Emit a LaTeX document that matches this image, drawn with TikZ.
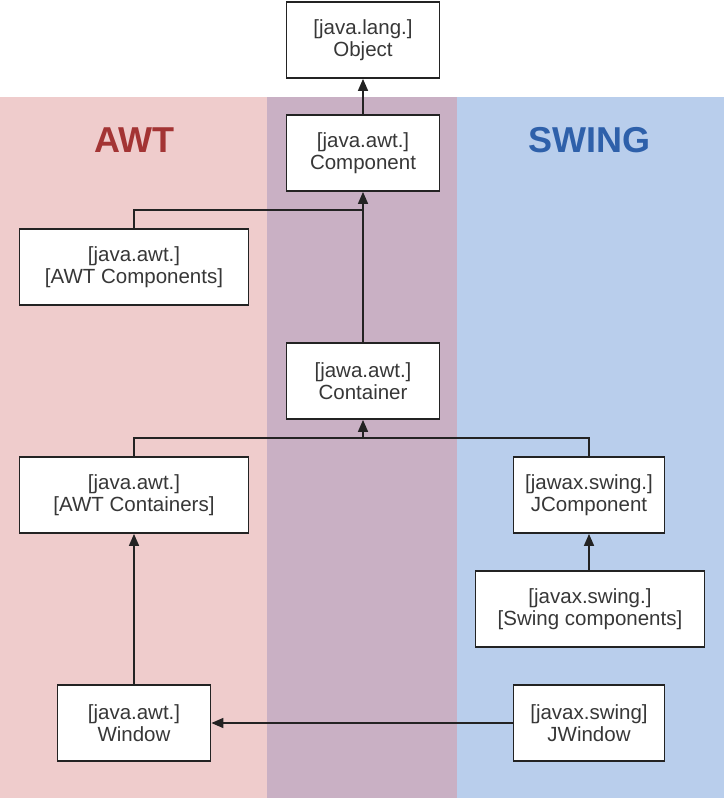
\documentclass[tikz,border=0pt]{standalone}
\usepackage{fontspec}
\setmainfont{Liberation Sans}
\usetikzlibrary{arrows.meta}
\definecolor{awtbg}{RGB}{239,204,204}
\definecolor{midbg}{RGB}{201,176,196}
\definecolor{swbg}{RGB}{185,206,236}
\definecolor{awtred}{RGB}{163,52,52}
\definecolor{swblue}{RGB}{46,96,170}
\definecolor{boxline}{RGB}{35,35,35}
\definecolor{boxtext}{RGB}{55,55,55}
\tikzset{
  cls/.style={draw=boxline, fill=white, line width=1.8pt, minimum height=76pt,
    inner sep=0pt, align=center, font=\fontsize{20.5}{22.5}\selectfont, text=boxtext},
  link/.style={line width=1.6pt, draw=boxline},
  inh/.style={link, -{Triangle[length=12pt,width=10pt]}},
  title/.style={font=\fontsize{36}{40}\selectfont\bfseries}
}
\begin{document}
\begin{tikzpicture}[x=1pt,y=-1pt]
\useasboundingbox (0,0) rectangle (724,800);
\fill[white] (0,0) rectangle (724,800);
\fill[awtbg] (0,97) rectangle (267,798);
\fill[midbg] (267,97) rectangle (457,798);
\fill[swbg] (457,97) rectangle (724,798);

\node[title, text=awtred] (awt) at (134,140) {AWT};
\node[title, text=swblue] (swing) at (589,140) {SWING};

\node[cls, minimum width=153pt] (obj) at (363,40) {[java.lang.]\\Object};
\node[cls, minimum width=153pt] (comp) at (363,153) {[java.awt.]\\Component};
\node[cls, minimum width=229pt] (awtcomps) at (134,267) {[java.awt.]\\{[AWT Components]}};
\node[cls, minimum width=153pt] (cont) at (363,381) {[jawa.awt.]\\Container};
\node[cls, minimum width=229pt] (awtconts) at (134,495) {[java.awt.]\\{[AWT Containers]}};
\node[cls, minimum width=151pt] (jcomp) at (589,495) {[jawax.swing.]\\JComponent};
\node[cls, minimum width=229pt] (swcomps) at (590,609) {[javax.swing.]\\{[Swing components]}};
\node[cls, minimum width=153pt] (win) at (134,723) {[java.awt.]\\Window};
\node[cls, minimum width=151pt] (jwin) at (589,723) {[javax.swing]\\JWindow};

\coordinate (j1) at (363,210);
\coordinate (j2) at (363,438);

\draw[inh] (comp.north) -- (obj.south);
\draw[inh] (cont.north) -- (comp.south);
\draw[link] (awtcomps.north) |- (j1);
\draw[inh] (j2) -- (cont.south);
\draw[link] (awtconts.north) |- (j2) -| (jcomp.north);
\draw[inh] (swcomps.north -| jcomp.south) -- (jcomp.south);
\draw[inh] (win.north) -- (awtconts.south);
\draw[inh] (jwin.west) -- (win.east);
\end{tikzpicture}
\end{document}
